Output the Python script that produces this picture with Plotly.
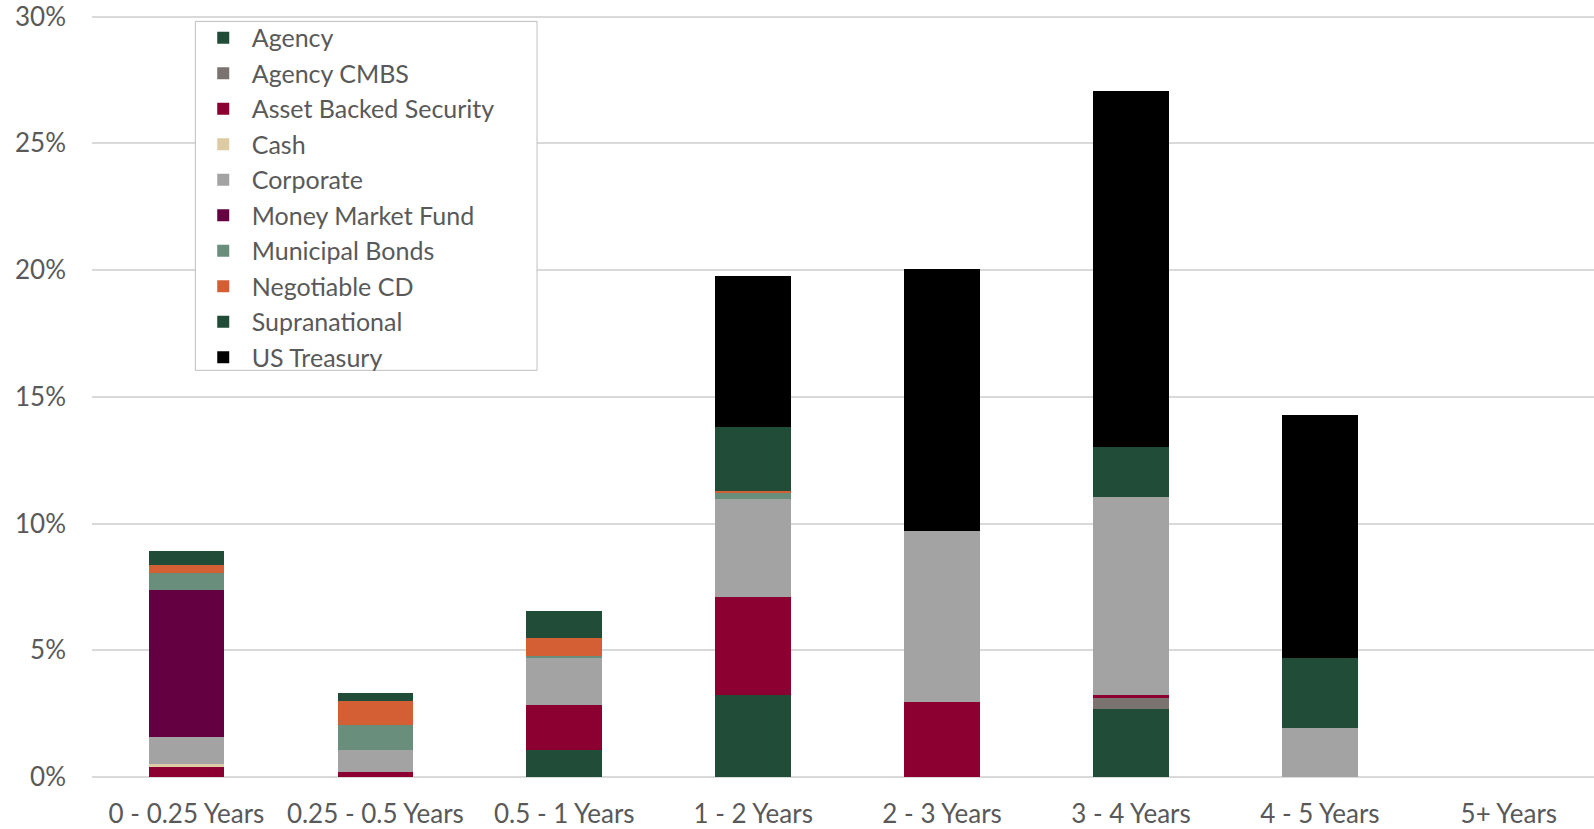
import plotly.graph_objects as go

categories = ["0 - 0.25 Years", "0.25 - 0.5 Years", "0.5 - 1 Years", "1 - 2 Years",
              "2 - 3 Years", "3 - 4 Years", "4 - 5 Years", "5+ Years"]

agency = [0, 0, 1.08, 3.23, 0, 2.67, 0, 0]
agency_cmbs = [0, 0, 0, 0, 0, 0.45, 0, 0]
asset_backed = [0.38, 0.20, 1.76, 3.89, 2.96, 0.10, 0, 0]
cash = [0.12, 0, 0, 0, 0, 0, 0, 0]
corporate = [1.07, 0.86, 1.89, 3.83, 6.74, 7.81, 1.92, 0]
money_market = [5.82, 0, 0, 0, 0, 0, 0, 0]
municipal = [0.64, 1.01, 0.04, 0.28, 0, 0, 0, 0]
negotiable_cd = [0.33, 0.92, 0.71, 0.07, 0, 0, 0, 0]
supranational = [0.57, 0.32, 1.08, 2.51, 0, 2.00, 2.79, 0]
us_treasury = [0, 0, 0, 5.97, 10.34, 14.03, 9.58, 0]

y_tick_values = [0, 5, 10, 15, 20, 25, 30]
y_tick_labels = ["0%", "5%", "10%", "15%", "20%", "25%", "30%"]

series = [
    ("Agency", agency, "#214C37"),
    ("Agency CMBS", agency_cmbs, "#7B736F"),
    ("Asset Backed Security", asset_backed, "#8B0030"),
    ("Cash", cash, "#DDCBA4"),
    ("Corporate", corporate, "#A3A3A3"),
    ("Money Market Fund", money_market, "#640041"),
    ("Municipal Bonds", municipal, "#6A8E7C"),
    ("Negotiable CD", negotiable_cd, "#D55F35"),
    ("Supranational", supranational, "#214C37"),
    ("US Treasury", us_treasury, "#000000"),
]

fig = go.Figure()
for name, vals, color in series:
    fig.add_trace(go.Bar(
        x=categories, y=vals, name=name,
        marker=dict(color=color, line=dict(width=0)),
        hoverinfo="skip",
    ))

# legend frame (white box with light grey border)
fig.add_shape(type="rect", xref="paper", yref="paper",
              x0=0.0688, x1=0.2963, y0=0.533, y1=0.9903,
              fillcolor="white", line=dict(color="#BFBFBF", width=1),
              layer="above")

font_family = "Lato, Noto Sans, sans-serif"
fig.update_layout(
    barmode="stack",
    bargap=0.60,
    width=1594, height=829,
    margin=dict(l=92, r=0, t=14, b=52, autoexpand=False),
    plot_bgcolor="white",
    paper_bgcolor="white",
    font=dict(family=font_family, color="#595959", size=26),
    xaxis=dict(range=[-0.5, 7.451], showgrid=False, showline=False, ticks="",
               tickfont=dict(size=26), ticklabelstandoff=19),
    yaxis=dict(range=[0, 30.1], tickvals=y_tick_values, ticktext=y_tick_labels,
               showgrid=True, ticklabeloverflow="allow", ticklabelstandoff=25,
               gridcolor="#D9D9D9", gridwidth=1.5, zeroline=True,
               zerolinecolor="#D9D9D9", zerolinewidth=1.5, ticks="",
               tickfont=dict(size=26)),
    legend=dict(
        x=0.0684, y=0.9988, xanchor="left", yanchor="top",
        traceorder="normal",
        bgcolor="rgba(0,0,0,0)", borderwidth=0,
        font=dict(size=25, color="#595959"),
        tracegroupgap=0, itemwidth=47,
    ),
)

post = ("document.body.style.margin='0';document.body.style.overflow='hidden';"
        "document.documentElement.style.overflow='hidden';")
fig.write_html("out.html", config={"displayModeBar": False}, post_script=post)
